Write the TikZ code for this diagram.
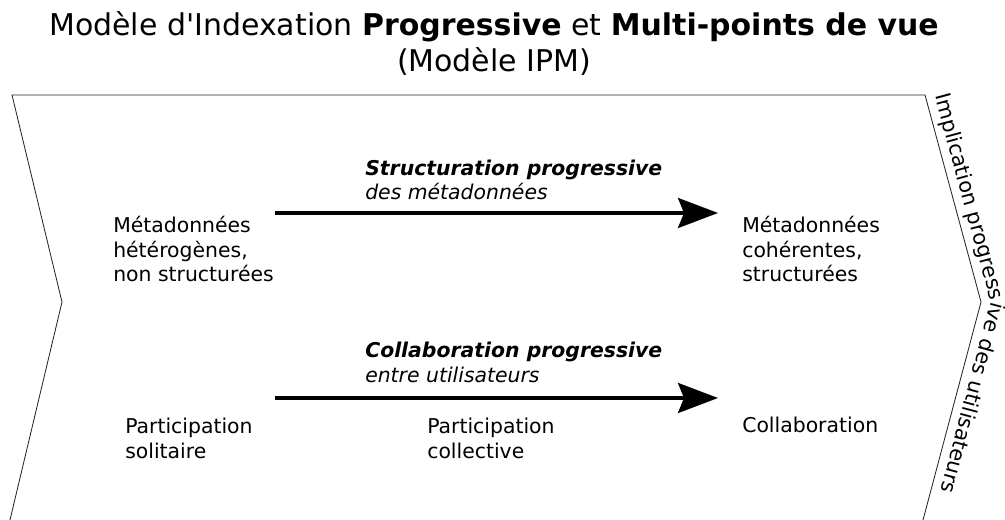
\documentclass[tikz,border=0pt]{standalone}
\usepackage{fontspec}
\setmainfont{DejaVu Sans}[Ligatures=TeXOff,BoldFont={DejaVu Sans Bold},ItalicFont={DejaVu Sans Oblique},BoldItalicFont={DejaVu Sans Bold Oblique}]
\usetikzlibrary{arrows.meta,decorations.text}

\begin{document}
\begin{tikzpicture}[
    txt/.style={inner sep=0pt, align=left, anchor=base west, font=\fontsize{14.5}{17.7}\selectfont},
    progress/.style={line width=2.3pt, -{Stealth[length=1cm, width=0.75cm, inset=0.15cm]}},
    edge/.style={line width=0.6pt, black!85}
    ]
    \useasboundingbox (0, 0) rectangle (25.125, 13);
    \node[inner sep=0pt, align=center, anchor=base, font=\fontsize{21.3}{26.3}\selectfont] (title) at (12.35, 11.2) {Modèle d'Indexation \textbf{Progressive} et \textbf{Multi-points de vue}\\(Modèle IPM)};
    % chevron
    \draw[edge] (0.178, -0.3) -- (1.55, 5.45) -- (0.3, 10.625) -- (23.125, 10.625) -- (24.525, 5.45) -- (22.995, -0.3);
    \path[decorate, decoration={text along path, text align=left, text={|\fontsize{14.8}{18}\selectfont|Implication progressive des utilisateurs}}] (23.375, 10.6) -- (24.775, 5.45) -- (23.325, 0);
    % metadonnees
    \node[txt] (metaL) at (2.825, 5.95) {Métadonnées\\hétérogènes,\\non structurées};
    \node[txt] (metaR) at (18.55, 5.95) {Métadonnées\\cohérentes,\\structurées};
    \node[txt] (structLbl) at (9.125, 8.0) {\textbf{\textit{Structuration progressive}}\\\textit{des métadonnées}};
    \coordinate (structA) at (6.875, 7.675);
    \coordinate (structB) at (17.95, 7.675);
    \draw[progress] (structA) -- (structB);
    % participation
    \node[txt] (soloP) at (3.125, 1.54) {Participation\\solitaire};
    \node[txt] (collP) at (10.675, 1.54) {Participation\\collective};
    \node[txt] (collab) at (18.55, 2.175) {Collaboration};
    \node[txt] (collabLbl) at (9.125, 3.44) {\textbf{\textit{Collaboration progressive}}\\\textit{entre utilisateurs}};
    \coordinate (collabA) at (6.875, 3.05);
    \coordinate (collabB) at (17.95, 3.05);
    \draw[progress] (collabA) -- (collabB);
\end{tikzpicture}
\end{document}
